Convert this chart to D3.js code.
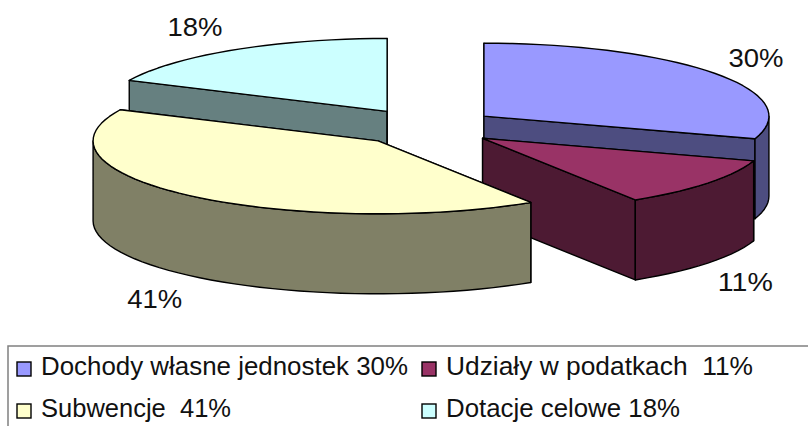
<!DOCTYPE html>
<html>
<head>
<meta charset="utf-8">
<style>
  html, body { margin: 0; padding: 0; background: #fff; overflow: hidden; }
  text { font-family: "Liberation Sans", Arial, sans-serif; fill: #111; white-space: pre; }
</style>
<script src="https://cdn.jsdelivr.net/npm/d3@7"></script>
</head>
<body>
<svg id="chart" width="808" height="426"></svg>
<script>
// dane
const names = ["Dochody własne jednostek", "Udziały w podatkach ", "Subwencje ", "Dotacje celowe"];
const values = [30, 11, 41, 18];
const topColors = ["#9999ff", "#993366", "#ffffcc", "#ccffff"];
const sideColors = ["#4d4d80", "#4d1a33", "#808066", "#668080"];

const svg = d3.select("#chart");

// geometria pseudo-3D
const cx = 425.7, cy = 127;
const rx = 285, ry = 73, depth = 80, explode = 72;
const xProj = d3.scaleLinear().domain([-1, 1]).range([-rx, rx]);
const yProj = d3.scaleLinear().domain([-1, 1]).range([ry, -ry]);

const slices = d3.pie().sort(null).value(d => d)(values);

const line = d3.line().x(d => d[0]).y(d => d[1]);

function apex(s) {
    const mid = (s.startAngle + s.endAngle) / 2;
    return [cx + xProj(Math.sin(mid)) * explode / rx, cy + yProj(Math.cos(mid)) * explode / rx];
}
function rim(s, a) {
    const c = apex(s);
    return [c[0] + xProj(Math.sin(a)), c[1] + yProj(Math.cos(a))];
}
function arcPoints(s, a0, a1) {
    const n = Math.max(2, Math.ceil((a1 - a0) / 0.05));
    return d3.range(n + 1).map(i => rim(s, a0 + (a1 - a0) * i / n));
}
const drop = pts => pts.map(p => [p[0], p[1] + depth]);

const g = svg.append("g").attr("stroke", "#000").attr("stroke-width", 1.4).attr("stroke-linejoin", "round");

function wall(pts, fill) {
    g.append("path").attr("d", line(pts.concat(drop(pts).reverse())) + "Z").attr("fill", fill);
}

// kolejność rysowania od tyłu do przodu
[3, 0, 1, 2].forEach(i => {
    const s = slices[i];
    const c = apex(s);
    wall([c, rim(s, s.startAngle)], sideColors[i]);
    wall([c, rim(s, s.endAngle)], sideColors[i]);
    // tylko przednia część obrzeża
    const a0 = Math.max(s.startAngle, Math.PI / 2);
    const a1 = Math.min(s.endAngle, Math.PI * 1.5);
    if (a1 > a0) wall(arcPoints(s, a0, a1), sideColors[i]);
    g.append("path")
        .attr("d", line([c].concat(arcPoints(s, s.startAngle, s.endAngle))) + "Z")
        .attr("fill", topColors[i]);
});

// etykiety procentowe
const labelNudge = [0, -3, -1, -12];
slices.forEach((s, i) => {
    const mid = (s.startAngle + s.endAngle) / 2;
    const c = apex(s);
    const front = Math.cos(mid) < 0 ? depth : 0;
    svg.append("text")
        .attr("x", c[0] + xProj(Math.sin(mid)) * 1.18 + labelNudge[i])
        .attr("y", c[1] + yProj(Math.cos(mid)) * 1.4 + front + 10.5)
        .attr("text-anchor", "middle")
        .attr("font-size", 26)
        .attr("textLength", 55)
        .attr("lengthAdjust", "spacingAndGlyphs")
        .text(s.data + "%");
});

// legenda
svg.append("rect")
    .attr("x", 8).attr("y", 346)
    .attr("width", 840).attr("height", 140)
    .attr("fill", "#fff").attr("stroke", "#808080").attr("stroke-width", 1.5);

const legendX = d3.scaleOrdinal().domain([0, 1]).range([17, 422]);
const legendY = d3.scaleOrdinal().domain([0, 1]).range([362, 404]);
const legendWidth = [367, 307, 190, 234];

names.forEach((name, i) => {
    const col = i % 2, row = i < 2 ? 0 : 1;
    svg.append("rect")
        .attr("x", legendX(col)).attr("y", legendY(row))
        .attr("width", 14).attr("height", 14)
        .attr("fill", topColors[i]).attr("stroke", "#000").attr("stroke-width", 1.4);
    svg.append("text")
        .attr("x", legendX(col) + 24).attr("y", legendY(row) + 12.5)
        .attr("font-size", 25)
        .attr("textLength", legendWidth[i])
        .attr("lengthAdjust", "spacingAndGlyphs")
        .text(name + " " + values[i] + "%");
});
</script>
</body>
</html>
